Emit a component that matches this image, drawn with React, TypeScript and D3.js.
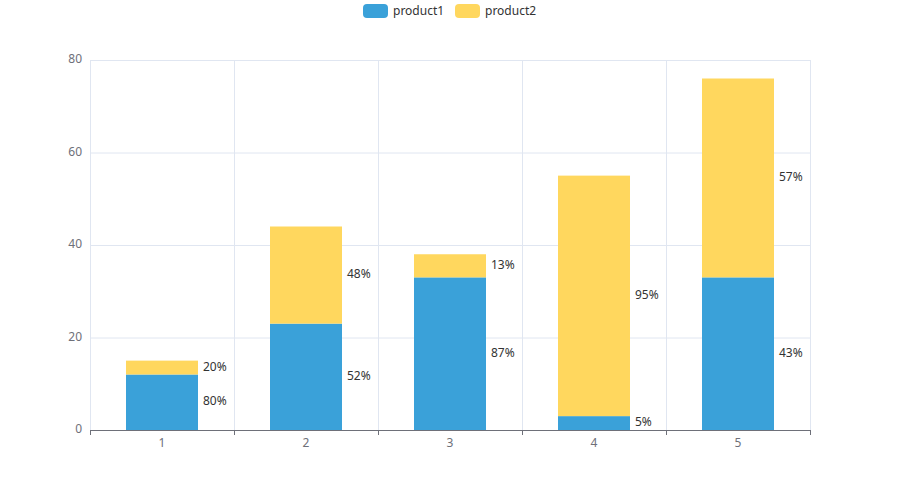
import React from "react";
import * as d3 from "d3";

const categories = ["1", "2", "3", "4", "5"];
const product1 = [12, 23, 33, 3, 33];
const product2 = [3, 21, 5, 52, 43];
const seriesNames = ["product1", "product2"];
const colors = ["#3aa1d9", "#ffd75e"];
const yTicks = [0, 20, 40, 60, 80];

export default function App() {
  const W = 900, H = 500;
  const left = 90, right = 810, top = 60, bottom = 430;
  const x = d3.scaleBand<string>().domain(categories).range([left, right]);
  const y = d3.scaleLinear().domain([0, 80]).range([bottom, top]);
  const bw = x.bandwidth() * 0.5;
  const font = "'Microsoft YaHei', 'Noto Sans', sans-serif";
  const stack = d3.stack<any>().keys(seriesNames)(
    categories.map((c, i) => ({ cat: c, product1: product1[i], product2: product2[i] }))
  );
  const totals = categories.map((_, i) => product1[i] + product2[i]);
  const vlines = d3.range(categories.length + 1).map((i) => left + i * x.step());
  return (
    <svg width={W} height={H} style={{ position: "absolute", left: 0, top: 0 }} fontFamily={font}>
      {/* grid */}
      {yTicks.map((t) => (
        <line key={"h" + t} x1={left} x2={right} y1={y(t) + 0.5} y2={y(t) + 0.5} stroke="#e0e6f1" />
      ))}
      {vlines.map((vx, i) => (
        <line key={"v" + i} x1={vx + 0.5} x2={vx + 0.5} y1={top} y2={bottom} stroke="#e0e6f1" />
      ))}
      {/* bars */}
      {stack.map((s, si) =>
        s.map((d, i) => (
          <rect
            key={si + "-" + i}
            x={x(categories[i])! + (x.bandwidth() - bw) / 2}
            y={y(d[1])}
            width={bw}
            height={y(d[0]) - y(d[1])}
            fill={colors[si]}
          />
        ))
      )}
      {/* labels */}
      {stack.map((s, si) =>
        s.map((d, i) => (
          <text
            key={"l" + si + "-" + i}
            x={x(categories[i])! + (x.bandwidth() + bw) / 2 + 5}
            y={(y(d[0]) + y(d[1])) / 2 - 1}
            dy="0.35em"
            fontSize={12}
            fill="#333"
          >
            {Math.round(((d[1] - d[0]) / totals[i]) * 100) + "%"}
          </text>
        ))
      )}
      {/* x axis */}
      <line x1={left} x2={right} y1={bottom + 0.5} y2={bottom + 0.5} stroke="#6e7079" />
      {vlines.map((vx, i) => (
        <line key={"t" + i} x1={vx + 0.5} x2={vx + 0.5} y1={bottom} y2={bottom + 5} stroke="#6e7079" />
      ))}
      {categories.map((c) => (
        <text key={"x" + c} x={x(c)! + x.bandwidth() / 2} y={bottom + 13} dy="0.35em" textAnchor="middle" fontSize={12} fill="#6e7079">
          {c}
        </text>
      ))}
      {yTicks.map((t) => (
        <text key={"y" + t} x={left - 8} y={y(t) - 1} dy="0.35em" textAnchor="end" fontSize={12} fill="#6e7079">
          {t}
        </text>
      ))}
      {/* legend */}
      {seriesNames.map((n, i) => {
        const lx = 363 + i * 92;
        return (
          <g key={"lg" + n}>
            <rect x={lx} y={4} width={25} height={14} rx={4} fill={colors[i]} />
            <text x={lx + 30} y={10.5} dy="0.35em" fontSize={12} fill="#333">
              {n}
            </text>
          </g>
        );
      })}
    </svg>
  );
}
